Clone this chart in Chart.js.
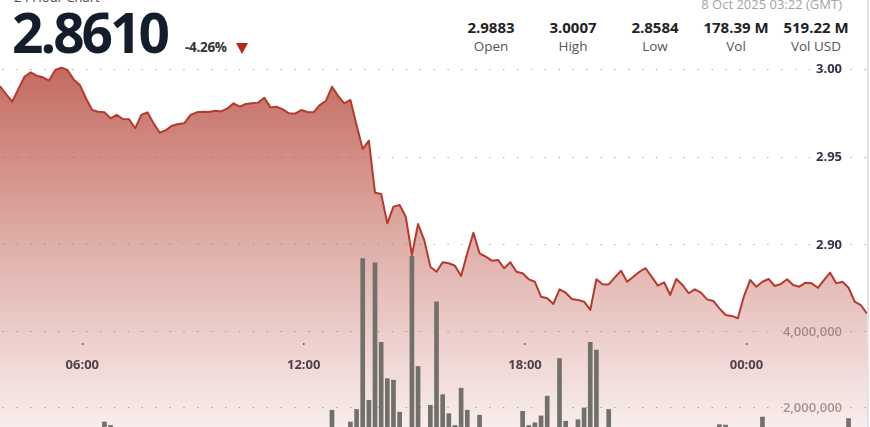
<!DOCTYPE html>
<html>
<head>
<meta charset="utf-8">
<script src="https://cdn.jsdelivr.net/npm/chart.js@4.4.1/dist/chart.umd.min.js"></script>
<style>
  html, body { margin: 0; padding: 0; background: #fff; overflow: hidden; }
  #wrap { position: relative; width: 870px; height: 427px; overflow: hidden; font-family: 'Open Sans', sans-serif; }
  #chartBox { position: absolute; left: 0; top: 62px; width: 867px; height: 422px; }
  #edge { position: absolute; left: 867px; top: 0; width: 2px; height: 427px; background: #e1e1e9; }
  .abs { position: absolute; white-space: nowrap; line-height: 1; }
  #title { left: 14px; top: -9px; font-size: 13px; color: #4a4a4a; }
  #last { left: 12px; top: 4px; font-size: 55px; font-weight: 700; color: #131d2b; letter-spacing: -3px; }
  #change { left: 185px; top: 41px; font-size: 13.5px; font-weight: 700; color: #333; letter-spacing: -0.3px; }
  #arrow { left: 236px; top: 43px; width: 0; height: 0; border-left: 6.5px solid transparent; border-right: 6.5px solid transparent; border-top: 11px solid #b8261c; }
  #stamp { right: 28px; top: -2px; font-size: 13px; color: #a3a3a3; }
  .val { top: 20px; font-size: 15px; font-weight: 700; color: #222; transform: translateX(-50%); }
  .lab { top: 40px; font-size: 13.5px; color: #555; transform: translateX(-50%); }
</style>
</head>
<body>
<div id="wrap">
  <div class="abs" id="title">24 Hour Chart</div>
  <div class="abs" id="last"></div>
  <div class="abs" id="change"></div>
  <div class="abs" id="arrow"></div>
  <div class="abs" id="stamp"></div>
  <div id="stats"></div>
  <div id="chartBox"><canvas id="chart"></canvas></div>
  <div id="edge"></div>
</div>
<script>
// header
const lastPrice = '2.8610';
const changePct = '-4.26%';
const stampText = '8 Oct 2025 03:22 (GMT)';
const statLabels = ['Open', 'High', 'Low', 'Vol', 'Vol USD'];
const statValues = ['2.9883', '3.0007', '2.8584', '178.39 M', '519.22 M'];
const statCenters = [491, 573, 655, 736, 816];

// 10 minute points, first visible one at 03:46 (minutes from midnight of day 1)
const firstPointMinute = 226;
const pointStepMinutes = 10;

const prices = [
  2.9903, 2.9858, 2.9814, 2.9886, 2.9956, 2.9981, 2.9962, 2.9953, 2.9934, 2.9994,
  3.0007, 2.9994, 2.9941, 2.9909, 2.9834, 2.9767, 2.9757, 2.9754, 2.9720, 2.9739,
  2.9716, 2.9715, 2.9663, 2.9739, 2.9754, 2.9691, 2.9638, 2.9653, 2.9678, 2.9688,
  2.9692, 2.9739, 2.9754, 2.9757, 2.9756, 2.9763, 2.9759, 2.9776, 2.9805, 2.9786,
  2.9801, 2.9805, 2.9809, 2.9837, 2.9782, 2.9786, 2.9771, 2.9748, 2.9747, 2.9767,
  2.9756, 2.9754, 2.9795, 2.9818, 2.9899, 2.9847, 2.9805, 2.9824, 2.9682, 2.9545,
  2.9593, 2.9297, 2.9290, 2.9123, 2.9218, 2.9227, 2.9161, 2.8943, 2.9119, 2.9028,
  2.8877, 2.8848, 2.8902, 2.8896, 2.8882, 2.8824, 2.8953, 2.9070, 2.8953, 2.8934,
  2.8911, 2.8915, 2.8868, 2.8902, 2.8848, 2.8839, 2.8805, 2.8791, 2.8706, 2.8697,
  2.8665, 2.8748, 2.8729, 2.8693, 2.8688, 2.8678, 2.8631, 2.8805, 2.8777, 2.8776,
  2.8816, 2.8854, 2.8791, 2.8820, 2.8848, 2.8868, 2.8819, 2.8769, 2.8788, 2.8716,
  2.8807, 2.8773, 2.8726, 2.8748, 2.8729, 2.8691, 2.8682, 2.8640, 2.8602, 2.8597,
  2.8584, 2.8710, 2.8801, 2.8763, 2.8791, 2.8807, 2.8767, 2.8778, 2.8805, 2.8773,
  2.8763, 2.8786, 2.8782, 2.8757, 2.8801, 2.8843, 2.8782, 2.8791, 2.8757, 2.8678,
  2.8659, 2.8610
];

// volume per 10 minutes, millions
const volumeMillions = [
  0.82, 0.74, 0.95, 0.88, 0.70, 0.62, 0.58, 0.66, 0.71, 0.80,
  0.92, 0.76, 0.85, 0.90, 1.05, 1.20, 0.98, 1.64, 1.55, 0.88,
  0.72, 0.64, 0.95, 0.81, 0.60, 0.70, 0.86, 0.66, 0.55, 0.52,
  0.58, 0.73, 0.61, 0.50, 0.47, 0.54, 0.49, 0.57, 0.63, 0.56,
  0.52, 0.48, 0.55, 0.78, 0.69, 0.51, 0.58, 0.66, 0.60, 0.62,
  0.70, 0.75, 0.96, 1.12, 1.95, 1.25, 1.18, 1.64, 1.97, 5.94,
  2.21, 5.83, 3.74, 2.78, 2.74, 1.90, 1.38, 6.00, 3.10, 1.42,
  2.08, 4.80, 2.36, 1.86, 1.55, 2.53, 1.95, 1.35, 1.82, 1.28,
  1.15, 1.22, 1.30, 1.08, 1.25, 1.92, 1.55, 1.62, 1.80, 2.32,
  1.40, 3.31, 1.66, 1.32, 1.70, 2.01, 3.74, 3.53, 1.38, 1.97,
  1.20, 1.05, 0.98, 0.90, 0.86, 0.95, 0.80, 1.02, 0.88, 1.10,
  0.92, 0.84, 0.96, 0.78, 0.82, 0.90, 1.12, 1.57, 1.56, 1.30,
  1.40, 1.35, 1.10, 0.92, 1.77, 0.95, 0.74, 0.70, 0.82, 0.66,
  0.60, 0.72, 0.64, 0.58, 0.76, 0.90, 0.68, 0.74, 1.73, 1.25,
  1.18, 0.95
];

const priceTicks = [2.90, 2.95, 3.00];
const volumeTicks = [2, 4];
const hourTicks = [360, 720, 1080, 1440]; // 06:00 12:00 18:00 00:00

// header text
document.getElementById('last').textContent = lastPrice;
document.getElementById('change').textContent = changePct;
document.getElementById('stamp').textContent = stampText;
const stats = document.getElementById('stats');
statLabels.forEach((l, i) => {
  const v = document.createElement('div');
  v.className = 'abs val'; v.style.left = statCenters[i] + 'px'; v.textContent = statValues[i];
  const t = document.createElement('div');
  t.className = 'abs lab'; t.style.left = statCenters[i] + 'px'; t.textContent = l;
  stats.appendChild(v); stats.appendChild(t);
});

const times = prices.map((_, i) => firstPointMinute + i * pointStepMinutes);
const pricePoints = prices.map((p, i) => ({ x: times[i], y: p }));
const volumePoints = volumeMillions.map((v, i) => ({ x: times[i], y: v }));

Chart.defaults.font.family = "'Open Sans', sans-serif";
Chart.defaults.animation = false;

const dotGrid = { color: '#a9a9a9', lineWidth: 1, drawTicks: false };
const dash = { dash: [1.4, 12.5], dashOffset: -2.6 };

// use exactly these tick values
function useTicks(list) {
  return scale => { scale.ticks = list.map(v => ({ value: v })); };
}

new Chart(document.getElementById('chart'), {
  data: {
    datasets: [
      {
        type: 'line',
        data: pricePoints,
        yAxisID: 'yPrice',
        borderColor: '#b5392c',
        borderWidth: 2,
        pointRadius: 0,
        tension: 0,
        borderJoinStyle: 'round',
        fill: 'start',
        backgroundColor: ctx => {
          const area = ctx.chart.chartArea;
          if (!area) return 'rgba(190,90,78,0.4)';
          const g = ctx.chart.ctx.createLinearGradient(0, area.top, 0, area.bottom);
          g.addColorStop(0, 'rgba(188,88,76,0.9)');
          g.addColorStop(1, 'rgba(200,110,100,0)');
          return g;
        },
        order: 1
      },
      {
        type: 'bar',
        data: volumePoints,
        yAxisID: 'y',
        backgroundColor: '#72706a',
        borderWidth: 0,
        categoryPercentage: 1,
        barPercentage: 0.76,
        order: 2
      }
    ]
  },
  options: {
    responsive: true,
    maintainAspectRatio: false,
    layout: { padding: 0 },
    plugins: {
      legend: { display: false },
      tooltip: { enabled: false },
      filler: { drawTime: 'beforeDatasetsDraw' }
    },
    scales: {
      x: {
        type: 'linear',
        offset: false,
        min: 226.2,
        max: 1636,
        position: { y: 3.71 },
        afterBuildTicks: useTicks(hourTicks),
        ticks: {
          autoSkip: false,
          maxRotation: 0,
          padding: 12,
          color: '#2b3342',
          font: { size: 13, weight: 700 },
          callback: v => String(Math.floor(v / 60) % 24).padStart(2, '0') + ':00'
        },
        grid: { offset: false, drawOnChartArea: false, drawTicks: true, tickLength: 2, color: '#555', lineWidth: 1.5 },
        border: { display: false }
      },
      yPrice: {
        type: 'linear',
        position: 'right',
        min: 2.7642,
        max: 3.00398,
        afterBuildTicks: useTicks(priceTicks),
        afterFit: s => { s.width = 0; },
        ticks: {
          mirror: true,
          padding: -25,
          color: '#2d3444',
          font: { size: 13, weight: 700 },
          callback: v => v.toFixed(2)
        },
        grid: { ...dotGrid },
        border: { display: false, ...dash }
      },
      y: {
        type: 'linear',
        position: 'right',
        min: 0,
        max: 11.105,
        afterBuildTicks: useTicks(volumeTicks),
        afterFit: s => { s.width = 0; },
        ticks: {
          mirror: true,
          padding: -25,
          color: '#9a9a9a',
          font: { size: 13, weight: 600 },
          callback: v => (v * 1e6).toLocaleString('en-US')
        },
        grid: { ...dotGrid },
        border: { display: false, ...dash }
      }
    }
  }
});
</script>
</body>
</html>
